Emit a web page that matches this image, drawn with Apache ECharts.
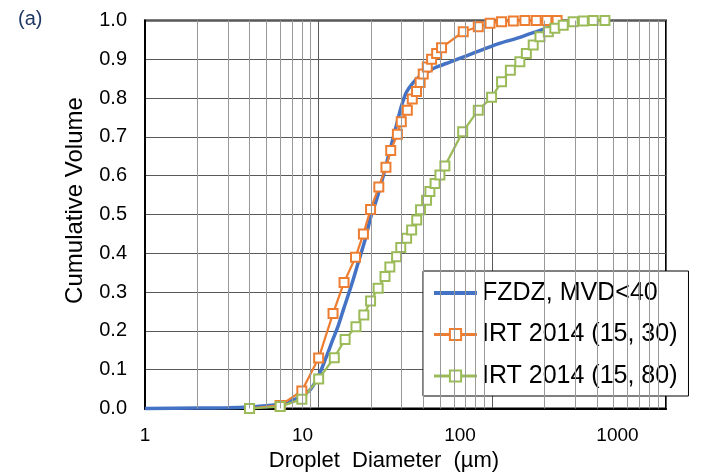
<!DOCTYPE html>
<html>
<head>
<meta charset="utf-8">
<script src="https://cdn.jsdelivr.net/npm/echarts@6/dist/echarts.min.js"></script>
<style>html,body{margin:0;padding:0;background:#fff;}#c{width:707px;height:473px;}</style>
</head>
<body>
<div id="c"></div>
<script>
// Data (diameter in µm, cumulative volume fraction)
const fzdzSeries = [[1,0],[2,0.001],[3,0.002],[4,0.004],[5,0.007],[6,0.012],[7,0.02],[8,0.033],[9,0.05],[10,0.085],[11,0.13],[12,0.175],[13,0.215],[14,0.26],[15.5,0.32],[17,0.38],[18.5,0.435],[20,0.495],[21.6,0.54],[23.5,0.598],[25.7,0.665],[27.5,0.715],[30,0.78],[32,0.815],[35,0.84],[38,0.855],[42,0.866],[46,0.877],[57,0.893],[71,0.909],[88,0.925],[110,0.941],[138,0.954],[165,0.966],[196,0.977],[230,0.987],[270,0.995],[320,1.0]];
const irt30Series = [[4,0],[6,0.008],[8,0.045],[10,0.13],[12.1,0.245],[14,0.325],[16.3,0.39],[18.1,0.45],[19.9,0.513],[22.2,0.571],[24.4,0.622],[26,0.665],[28.4,0.707],[29.9,0.739],[32.4,0.769],[34.6,0.798],[36.6,0.817],[38.4,0.84],[40,0.862],[42.2,0.88],[44.7,0.9],[47.8,0.915],[51,0.93],[68,0.971],[83,0.984],[97,0.993],[113,0.997],[132,0.999],[154,1],[179,1],[206,1],[236,1]];
const irt80Series = [[4,0],[6,0.005],[8,0.024],[10,0.076],[12.3,0.131],[14.2,0.178],[16.4,0.211],[18.2,0.241],[19.9,0.277],[22,0.31],[24.1,0.34],[25.7,0.365],[28.1,0.391],[29.7,0.415],[32.1,0.439],[34.3,0.46],[36.7,0.486],[38.6,0.512],[41.8,0.537],[43.7,0.559],[46.8,0.58],[49.9,0.602],[53.3,0.625],[67.5,0.713],[83,0.769],[99,0.802],[113,0.842],[127,0.872],[144,0.894],[157,0.915],[172,0.937],[188,0.958],[210,0.971],[229,0.98],[256,0.988],[292,0.997],[334,0.999],[381,1],[445,1]];
const seriesNames = ['FZDZ, MVD<40', 'IRT 2014 (15, 30)', 'IRT 2014 (15, 80)'];
const xTickLabels = ['1', '10', '100', '1000'];
const minorGridValues = [2,3,4,5,6,7,8,9,20,30,40,50,60,70,80,90,200,300,400,500,600,700,800,900];

const chart = echarts.init(document.getElementById('c'), null, {renderer: 'canvas'});
const FONT = 'Liberation Sans, Arial, sans-serif';
const option = {
  animation: false,
  backgroundColor: '#fff',
  title: {
    text: '(a)', left: 18, top: 9, padding: 0,
    textStyle: {fontFamily: FONT, fontSize: 20, fontWeight: 'normal', color: '#203864'}
  },
  grid: {
    left: 145, right: 41, top: 20.5, bottom: 64.5,
    outerBoundsMode: 'none', containLabel: false,
    show: true, borderColor: '#000', borderWidth: 2, backgroundColor: 'transparent'
  },
  legend: {
    orient: 'vertical', left: 423, top: 271,
    backgroundColor: '#fff', borderColor: '#000', borderWidth: 1,
    padding: [9.5, 11, 7.5, 9],
    itemWidth: 43, itemHeight: 14, itemGap: 16.5,
    textStyle: {fontFamily: FONT, fontSize: 25, color: '#000'},
    data: [
      {name: seriesNames[0], itemStyle: {color: 'transparent', borderColor: 'transparent', opacity: 0}, lineStyle: {width: 4}},
      {name: seriesNames[1], lineStyle: {width: 3}},
      {name: seriesNames[2], lineStyle: {width: 3}}
    ]
  },
  xAxis: [{
    type: 'log', logBase: 10, min: 1, max: 1000,
    axisLine: {show: true, lineStyle: {color: '#000', width: 2}},
    axisTick: {show: false},
    axisLabel: {show: false},
    splitLine: {show: true, lineStyle: {color: '#595959', width: 1}}
  }, {
    type: 'log', logBase: 10, min: 1, max: 2032, position: 'bottom',
    axisLine: {show: false}, axisTick: {show: false}, splitLine: {show: false},
    axisLabel: {
      show: true, margin: 18, fontFamily: FONT, fontSize: 19, color: '#000',
      showMaxLabel: false,
      formatter: function (v) {
        for (const t of xTickLabels) { if (Math.abs(v - Number(t)) < 1e-6 * Number(t)) return t; }
        return '';
      }
    },
    name: 'Droplet  Diameter  (µm)', nameLocation: 'middle', nameGap: 41,
    nameTextStyle: {fontFamily: FONT, fontSize: 22, color: '#000', padding: [0, 43, 0, 0]}
  }],
  yAxis: {
    type: 'value', min: 0, max: 1, interval: 0.1,
    axisLine: {show: true, lineStyle: {color: '#000', width: 2}},
    axisTick: {show: false},
    axisLabel: {margin: 18, fontFamily: FONT, fontSize: 20, color: '#000', formatter: v => v.toFixed(1)},
    splitLine: {show: true, lineStyle: {color: '#595959', width: 1}},
    name: 'Cumulative Volume', nameLocation: 'middle', nameRotate: 90, nameGap: 58,
    nameTextStyle: {fontFamily: FONT, fontSize: 24, color: '#000', padding: [0, 0, 0, 28]}
  },
  series: [{
    type: 'line', name: '_minor', xAxisIndex: 0, data: [], z: 1, silent: true,
    markLine: {
      silent: true, symbol: ['none', 'none'], label: {show: false},
      lineStyle: {color: '#999', width: 1, type: 'solid'},
      emphasis: {disabled: true},
      data: minorGridValues.map(v => ({xAxis: v}))
    }
  }, {
    type: 'line', name: seriesNames[0], xAxisIndex: 0, data: fzdzSeries,
    smooth: 0.3, showSymbol: false, symbol: 'none', clip: false,
    lineStyle: {color: '#4472C4', width: 3.5}, itemStyle: {color: '#4472C4'}
  }, {
    type: 'line', name: seriesNames[1], xAxisIndex: 0, data: irt30Series,
    symbol: 'rect', symbolSize: 9, clip: false,
    lineStyle: {color: '#ED7D31', width: 2.25},
    itemStyle: {color: '#fff', borderColor: '#ED7D31', borderWidth: 2}
  }, {
    type: 'line', name: seriesNames[2], xAxisIndex: 0, data: irt80Series,
    symbol: 'rect', symbolSize: 9, clip: false,
    lineStyle: {color: '#9BBB59', width: 2.25},
    itemStyle: {color: '#fff', borderColor: '#9BBB59', borderWidth: 2}
  }]
};
chart.setOption(option);
</script>
</body>
</html>
